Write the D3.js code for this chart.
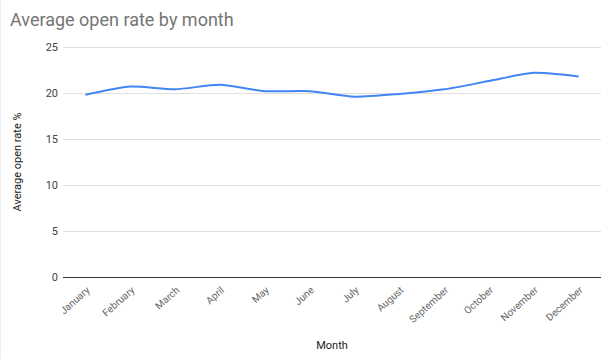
<!DOCTYPE html>
<html><head><meta charset="utf-8">
<script src="https://cdn.jsdelivr.net/npm/d3@7"></script>
<style>body{margin:0;background:#fff;}svg{display:block;font-family:Roboto,Arial,sans-serif;}</style>
</head><body>
<script>
const months = ["January","February","March","April","May","June","July","August","September","October","November","December"];
const openRate = [19.8, 20.7, 20.4, 20.9, 20.2, 20.2, 19.6, 19.9, 20.4, 21.3, 22.2, 21.8];
const yTicks = [0, 5, 10, 15, 20, 25];

const W = 611, H = 359;
const m = {left: 63, right: 10, top: 47, bottom: 82};
const svg = d3.select("body").append("svg").attr("width", W).attr("height", H);
svg.append("rect").attr("x",0).attr("y",0).attr("width",W).attr("height",H).attr("fill","#fff");
svg.append("line").attr("x1",0.5).attr("x2",0.5).attr("y1",0).attr("y2",H).attr("stroke","#eeeeee");

const x = d3.scaleBand().domain(months).range([m.left, W - m.right]);
const y = d3.scaleLinear().domain([0, 25]).range([H - m.bottom, m.top]);

// grid
svg.append("g").selectAll("line").data(yTicks.filter(d => d !== 0)).join("line")
  .attr("x1", m.left).attr("x2", W - m.right)
  .attr("y1", d => Math.round(y(d)) + 0.5).attr("y2", d => Math.round(y(d)) + 0.5)
  .attr("stroke", "#e0e0e0");

// y labels
svg.append("g").selectAll("text").data(yTicks).join("text")
  .attr("x", m.left - 5).attr("y", d => y(d) + 4)
  .attr("text-anchor", "end").attr("font-size", 11).attr("fill", "#444")
  .text(d => d);

// baseline
svg.append("line").attr("x1", m.left).attr("x2", W - m.right)
  .attr("y1", Math.round(y(0)) + 0.5).attr("y2", Math.round(y(0)) + 0.5)
  .attr("stroke", "#333").attr("stroke-width", 1);

// x labels
svg.append("g").selectAll("text").data(months).join("text")
  .attr("transform", d => `translate(${x(d) + x.bandwidth()/2 + 5},${y(0) + 14}) rotate(-42)`)
  .attr("text-anchor", "end").attr("font-size", 10).attr("fill", "#666")
  .text(d => d);

// line
const line = d3.line()
  .x((d, i) => x(months[i]) + x.bandwidth()/2)
  .y(d => y(d))
  .curve(d3.curveCardinal.tension(0.3));
svg.append("path").datum(openRate).attr("d", line)
  .attr("fill", "none").attr("stroke", "#4285f4").attr("stroke-width", 2);

// title
svg.append("text").attr("x", 10).attr("y", 26).attr("font-size", 18).attr("fill", "#757575")
  .text("Average open rate by month");

// axis titles
svg.append("text").attr("x", (m.left + W - m.right)/2).attr("y", 349)
  .attr("text-anchor", "middle").attr("font-size", 11).attr("fill", "#222").text("Month");
svg.append("text").attr("transform", `translate(21,${(m.top + H - m.bottom)/2}) rotate(-90)`)
  .attr("text-anchor", "middle").attr("font-size", 11).attr("fill", "#222").text("Average open rate %");
</script>
</body></html>
